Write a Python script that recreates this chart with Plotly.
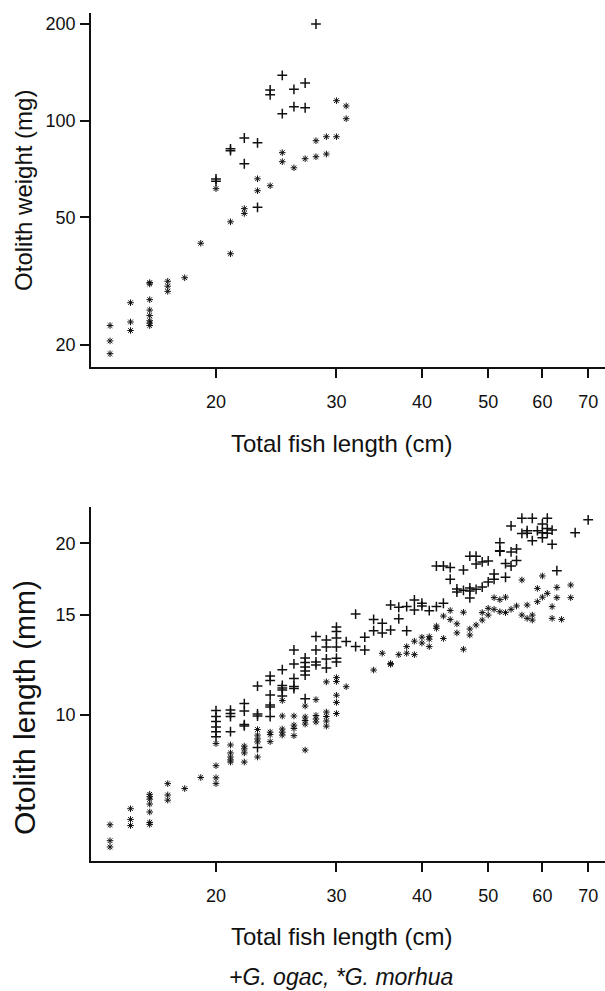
import plotly.graph_objects as go

# ---------------- Top panel: otolith weight (mg) vs total fish length (cm) ----------------
wt_ogac_len = [20, 20, 21, 21, 22, 22, 23, 23, 24, 24, 25, 25, 26, 26, 27, 27, 28]
wt_ogac_val = [65.8, 64.7, 81.7, 80.6, 88.3, 73.4, 85.3, 53.7, 124.6, 120.4,
               138.4, 105.1, 125.2, 110.5, 131.0, 109.7, 200.0]

wt_morhua_len = [14, 14, 14, 15, 15, 15, 16, 16, 16, 16, 16, 16, 16, 16, 17, 17, 17,
                 18, 19, 20, 21, 21, 22, 22, 23, 23, 24, 25, 25, 26, 27, 28, 28,
                 29, 29, 30, 30, 31, 31]
wt_morhua_val = [23.0, 20.6, 18.8, 27.1, 23.6, 22.2, 31.3, 31.0, 27.7, 25.7, 24.7, 23.8,
                 23.4, 23.0, 31.6, 30.5, 29.4, 32.4, 41.5, 61.4, 48.4, 38.5, 53.2, 51.4,
                 65.9, 60.5, 62.7, 79.5, 74.5, 71.3, 76.1, 86.6, 77.2, 89.1, 78.7, 89.1,
                 115.4, 111.1, 101.4]

# ---------------- Bottom panel: otolith length (mm) vs total fish length (cm) ----------------
ol_ogac_len = [20, 20, 20, 20, 20, 20,
               21, 21, 21, 21,
               22, 22, 22, 22,
               23, 23, 23, 23,
               24, 24, 24, 24, 24, 24,
               25, 25, 25, 25, 25,
               26, 26, 26, 26, 26,
               27, 27, 27, 27, 27, 27,
               28, 28, 28, 28,
               29, 29, 29, 29,
               30, 30, 30, 30, 30, 30,
               31, 32, 32, 33, 33, 34, 34, 35, 35, 36, 36, 37, 37, 38, 38,
               39, 39, 40, 40, 41, 42, 42, 43, 43, 44, 44, 45, 45, 46, 46,
               47, 47, 47, 47, 48, 48, 48, 49, 49, 50, 50, 51, 51,
               52, 52, 52, 53, 53, 54, 54, 54, 55, 55, 56, 56, 57, 57,
               58, 58, 59, 60, 60, 60, 61, 61, 61, 62, 62, 63, 67, 70]
ol_ogac_val = [10.18, 9.94, 9.74, 9.53, 9.35, 9.16,
               10.20, 10.06, 9.94, 9.35,
               10.47, 10.16, 9.62, 9.57,
               11.24, 10.04, 9.96, 8.77,
               11.70, 11.50, 10.84, 10.41, 10.33, 9.94,
               12.01, 11.27, 11.15, 11.06, 10.80,
               13.00, 12.29, 11.59, 11.22, 11.13,
               12.59, 12.36, 12.14, 11.94, 11.75, 10.68,
               13.73, 13.00, 12.39, 12.24,
               13.54, 13.16, 12.54, 12.09,
               14.26, 14.01, 13.65, 13.16, 12.58, 12.38,
               13.45, 15.03, 13.18, 13.69, 13.00, 14.71, 14.05, 14.48, 13.93, 15.59, 14.09,
               15.45, 14.75, 15.49, 14.05,
               15.91, 15.28, 15.70, 15.53, 15.24, 18.25, 15.49, 18.25, 15.70, 18.14, 17.30,
               16.63, 16.43, 17.96, 16.54,
               18.99, 16.70, 16.50, 16.04, 18.99, 18.39, 16.61, 18.55, 16.76, 18.63, 17.11,
               17.67, 17.30,
               20.05, 19.41, 19.37, 18.43, 17.44, 21.45, 19.32, 18.25, 19.55, 18.66,
               22.13, 20.81, 21.05, 20.83,
               22.13, 20.21, 21.05, 21.62, 20.87, 20.45, 22.13, 21.23, 20.83, 21.10, 19.92,
               17.91, 20.88, 21.99]

ol_morhua_len = [14, 14, 14, 15, 15, 15,
                 16, 16, 16, 16, 16, 16, 16,
                 17, 17, 17, 18, 19,
                 20, 20, 20, 20,
                 21, 21, 21, 21, 21,
                 22, 22, 22, 22,
                 23, 23, 23, 23, 23,
                 24, 24, 24,
                 25, 25, 25, 25, 25,
                 26, 26, 26, 26,
                 27, 27, 27, 27, 27,
                 28, 28, 28, 28,
                 29, 29, 29, 29, 29,
                 30, 30, 30, 30, 30,
                 31, 34, 35, 36, 36, 37, 38, 38, 39, 39, 40, 40,
                 41, 41, 41, 42, 42, 43, 43, 44, 44, 45, 45, 46, 46, 47, 47,
                 48, 49, 49, 50, 50, 51, 51, 52, 52, 53, 53, 54, 55, 56, 56,
                 57, 57, 58, 58, 59, 59, 60, 60, 61, 62, 62, 63, 63, 64, 66, 66]
ol_morhua_val = [6.42, 6.02, 5.87, 6.85, 6.56, 6.40,
                 7.26, 7.19, 7.12, 6.98, 6.76, 6.48, 6.43,
                 7.58, 7.24, 7.09, 7.43, 7.77,
                 8.91, 8.15, 7.76, 7.58,
                 8.86, 8.58, 8.44, 8.34, 8.27,
                 8.82, 8.72, 8.58, 8.27,
                 9.43, 9.22, 9.08, 8.97, 8.44,
                 9.33, 9.24, 8.98,
                 10.60, 9.96, 9.45, 9.33, 9.22,
                 9.96, 9.60, 9.47, 9.20,
                 10.37, 9.92, 9.78, 9.64, 8.68,
                 10.64, 9.98, 9.84, 9.72,
                 11.43, 10.12, 9.94, 9.76, 9.56,
                 11.63, 11.45, 10.83, 10.52, 10.06,
                 11.21, 11.99, 12.83, 12.31, 12.27, 12.76, 13.18, 12.83, 13.47, 12.76, 13.69, 13.37,
                 13.72, 13.58, 13.18, 14.32, 14.19, 14.91, 13.62, 15.25, 14.70, 14.45, 13.93,
                 15.14, 13.04, 14.15, 13.81,
                 14.38, 15.12, 14.67, 15.38, 14.97, 16.06, 15.32, 15.93, 15.17, 16.09, 15.12,
                 15.32, 15.53, 17.25, 14.97,
                 15.59, 14.77, 14.97, 14.67, 16.67, 15.80, 17.53, 16.09, 16.34, 15.49, 14.77,
                 16.74, 16.06, 14.71, 16.90, 16.06]

x_ticks = [20, 30, 40, 50, 60, 70]
x_tick_labels = ["20", "30", "40", "50", "60", "70"]
wt_ticks = [20, 50, 100, 200]
wt_tick_labels = ["20", "50", "100", "200"]
ol_ticks = [10, 15, 20]
ol_tick_labels = ["10", "15", "20"]

FONT = "Liberation Sans, Arial, Helvetica, sans-serif"
INK = "#111111"

plus_marker = dict(symbol="cross-thin-open", size=7, color=INK,
                   line=dict(width=1.5, color=INK))
star_marker = dict(symbol="asterisk-open", size=5.5, color=INK,
                   line=dict(width=1.0, color=INK))

fig = go.Figure()
fig.add_trace(go.Scatter(x=wt_morhua_len, y=wt_morhua_val, mode="markers",
                         marker=star_marker, xaxis="x", yaxis="y", showlegend=False))
fig.add_trace(go.Scatter(x=wt_ogac_len, y=wt_ogac_val, mode="markers",
                         marker=plus_marker, xaxis="x", yaxis="y", showlegend=False))
fig.add_trace(go.Scatter(x=ol_morhua_len, y=ol_morhua_val, mode="markers",
                         marker=star_marker, xaxis="x2", yaxis="y2", showlegend=False))
fig.add_trace(go.Scatter(x=ol_ogac_len, y=ol_ogac_val, mode="markers",
                         marker=plus_marker, xaxis="x2", yaxis="y2", showlegend=False))

common = dict(type="log", ticks="outside", ticklen=9, tickwidth=1.5, tickcolor=INK,
              showline=True, linecolor=INK, linewidth=1.5, showgrid=False, zeroline=False,
              tickfont=dict(family=FONT, size=18, color=INK))

x_range = [1.1183, 1.8697]
fig.update_layout(
    width=605, height=991,
    margin=dict(l=91, r=0, t=13, b=130),
    paper_bgcolor="white", plot_bgcolor="white",
    xaxis=dict(common, range=x_range, domain=[0, 1], anchor="y",
               tickmode="array", tickvals=x_ticks, ticktext=x_tick_labels,
               ticklabelstandoff=9),
    yaxis=dict(common, range=[1.2325, 2.3353], domain=[0.5825, 1], anchor="x",
               tickmode="array", tickvals=wt_ticks, ticktext=wt_tick_labels,
               ticklabelstandoff=1),
    xaxis2=dict(common, range=x_range, domain=[0, 1], anchor="y2",
                tickmode="array", tickvals=x_ticks, ticktext=x_tick_labels,
                ticklabelstandoff=9),
    yaxis2=dict(common, range=[0.744, 1.3652], domain=[0, 0.4178], anchor="x2",
                tickmode="array", tickvals=ol_ticks, ticktext=ol_tick_labels,
                ticklabelstandoff=1),
)

ann_font = dict(family=FONT, size=24, color=INK)
fig.add_annotation(text="Otolith weight (mg)", xref="paper", yref="paper",
                   x=-0.1304, y=0.7913, textangle=-90, showarrow=False,
                   xanchor="center", yanchor="middle", font=ann_font)
fig.add_annotation(text="Otolith length (mm)", xref="paper", yref="paper",
                   x=-0.1304, y=0.1816, textangle=-90, showarrow=False,
                   xanchor="center", yanchor="middle",
                   font=dict(family=FONT, size=30, color=INK))
fig.add_annotation(text="Total fish length (cm)", xref="paper", yref="paper",
                   x=0.4864, y=0.4929, showarrow=False,
                   xanchor="center", yanchor="middle", font=ann_font)
fig.add_annotation(text="Total fish length (cm)", xref="paper", yref="paper",
                   x=0.4864, y=-0.0896, showarrow=False,
                   xanchor="center", yanchor="middle", font=ann_font)
fig.add_annotation(text="<i>+G. ogac, *G. morhua</i>", xref="paper", yref="paper",
                   x=0.4864, y=-0.1368, showarrow=False,
                   xanchor="center", yanchor="middle", borderpad=0,
                   font=dict(family=FONT, size=23, color=INK))

fig.write_html("out.html", config={"displayModeBar": False})
